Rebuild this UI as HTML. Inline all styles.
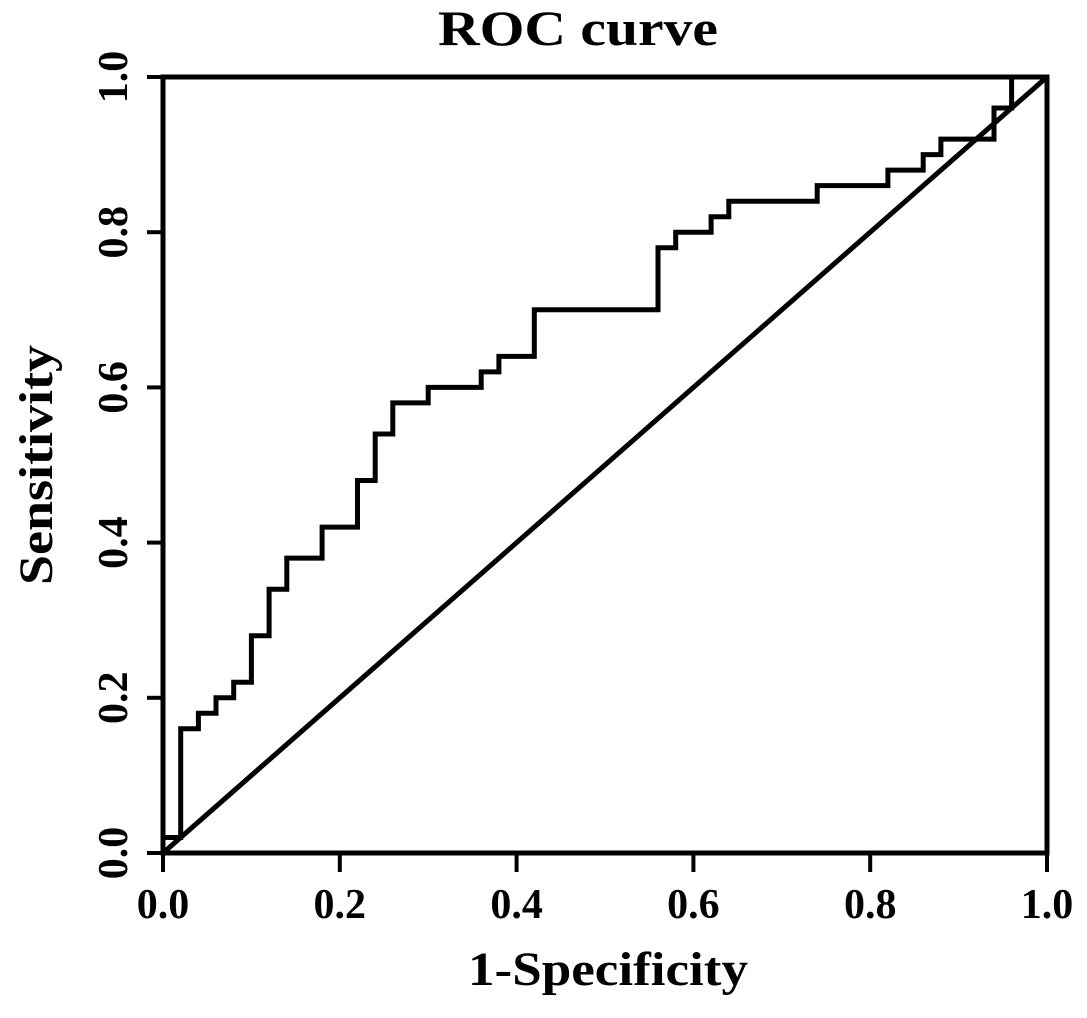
<!DOCTYPE html>
<html><head><meta charset="utf-8"><style>
html,body{margin:0;padding:0;background:#fff;}
svg{display:block;font-family:"Liberation Serif",serif;font-weight:bold;}
</style></head><body>
<svg id="chart" width="1087" height="1018" viewBox="0 0 1087 1018">
<text x="438" y="45" font-size="50" textLength="280" lengthAdjust="spacingAndGlyphs">ROC curve</text>
<text x="468" y="985" font-size="48" textLength="280" lengthAdjust="spacingAndGlyphs">1-Specificity</text>
<text transform="translate(52,585) rotate(-90)" font-size="48" textLength="240" lengthAdjust="spacingAndGlyphs">Sensitivity</text>
<g id="axes"></g>
<g id="marks"></g>
</svg>
<script>
const xTicks = [0, 0.2, 0.4, 0.6, 0.8, 1.0];
const yTicks = [0, 0.2, 0.4, 0.6, 0.8, 1.0];
const tickLabels = ["0.0", "0.2", "0.4", "0.6", "0.8", "1.0"];
const fpr = [0, 0, 0.02, 0.02, 0.04, 0.04, 0.06, 0.06, 0.08, 0.08, 0.10, 0.10, 0.12, 0.12, 0.14, 0.14, 0.18, 0.18, 0.22, 0.22, 0.24, 0.24, 0.26, 0.26, 0.30, 0.30, 0.36, 0.36, 0.38, 0.38, 0.42, 0.42, 0.56, 0.56, 0.58, 0.58, 0.62, 0.62, 0.64, 0.64, 0.74, 0.74, 0.82, 0.82, 0.86, 0.86, 0.88, 0.88, 0.94, 0.94, 0.96, 0.96, 1.0];
const tpr = [0, 0.02, 0.02, 0.16, 0.16, 0.18, 0.18, 0.20, 0.20, 0.22, 0.22, 0.28, 0.28, 0.34, 0.34, 0.38, 0.38, 0.42, 0.42, 0.48, 0.48, 0.54, 0.54, 0.58, 0.58, 0.60, 0.60, 0.62, 0.62, 0.64, 0.64, 0.70, 0.70, 0.78, 0.78, 0.80, 0.80, 0.82, 0.82, 0.84, 0.84, 0.86, 0.86, 0.88, 0.88, 0.90, 0.90, 0.92, 0.92, 0.96, 0.96, 1.0, 1.0];
const refX = [0, 1];
const refY = [0, 1];

const X0 = 163, X1 = 1047, Y0 = 853, Y1 = 77;
const sx = v => X0 + v * (X1 - X0);
const sy = v => Y0 - v * (Y0 - Y1);
const NS = "http://www.w3.org/2000/svg";
const axes = document.getElementById('axes');
const marks = document.getElementById('marks');
function mk(tag, attrs, parent) {
  const e = document.createElementNS(NS, tag);
  for (const k in attrs) e.setAttribute(k, attrs[k]);
  parent.appendChild(e);
  return e;
}
const frame = mk('rect', {x: X0, y: Y1, width: X1 - X0, height: Y0 - Y1, fill: 'none', stroke: '#000', 'stroke-width': 5}, axes);


xTicks.forEach((t, i) => {
  const l = mk('line', {x1: sx(t), x2: sx(t), y1: Y0, y2: Y0 + 19, stroke: '#000', 'stroke-width': 4}, axes);
  
  
  const tx = mk('text', {x: sx(t), y: Y0 + 65, 'text-anchor': 'middle', 'font-size': 42}, axes);
  
  
  tx.textContent = tickLabels[i];
});
yTicks.forEach((t, i) => {
  const l = mk('line', {x1: X0 - 16, x2: X0, y1: sy(t), y2: sy(t), stroke: '#000', 'stroke-width': 4}, axes);
  
  
  const tx = mk('text', {transform: `translate(${X0 - 36},${sy(t)}) rotate(-90)`, 'text-anchor': 'middle', 'font-size': 42}, axes);
  
  
  tx.textContent = tickLabels[i];
});
const ref = mk('line', {x1: sx(refX[0]), y1: sy(refY[0]), x2: sx(refX[1]), y2: sy(refY[1]), stroke: '#000', 'stroke-width': 5}, marks);


let d = '';
fpr.forEach((v, i) => { d += (i ? 'L' : 'M') + sx(v).toFixed(1) + ' ' + sy(tpr[i]).toFixed(1); });
const roc = mk('path', {d: d, fill: 'none', stroke: '#000', 'stroke-width': 5, 'stroke-linejoin': 'miter'}, marks);


</script>
</body></html>
